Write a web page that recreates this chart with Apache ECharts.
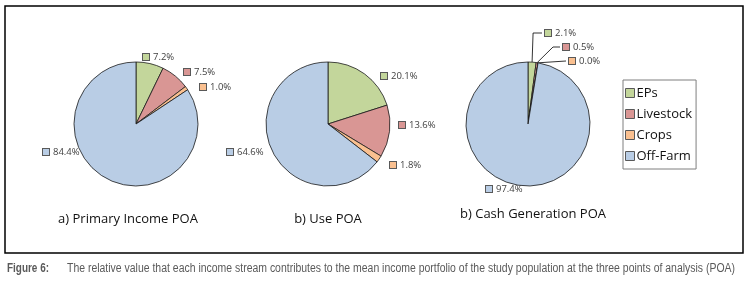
<!DOCTYPE html>
<html>
<head>
<meta charset="utf-8">
<script src="https://cdn.jsdelivr.net/npm/echarts@6/dist/echarts.min.js"></script>
<style>
html,body{margin:0;padding:0;background:#fff;}
#c{width:751px;height:285px;}
</style>
</head>
<body>
<div id="c"></div>
<script>
// ---- data ----
const categories = ['EPs', 'Livestock', 'Crops', 'Off-Farm'];
const primaryIncome = [7.2, 7.5, 1.0, 84.4];
const usePOA = [20.1, 13.6, 1.8, 64.6];
const cashGeneration = [2.1, 0.5, 0.0, 97.4];
const pieTitles = ['a) Primary Income POA', 'b) Use POA', 'b) Cash Generation POA'];
const caption = 'The relative value that each income stream contributes to the mean income portfolio of the study population at the three points of analysis (POA)';
const captionLabel = 'Figure 6:';

// ---- layout / style ----
const colors = ['#C3D69B', '#D99694', '#FAC090', '#B9CDE5'];
const centers = [[136, 124], [328, 124], [528, 124]];
const radius = 62;
// label anchor offsets (marker left, middle) from each pie centre
const labelOffsets = [
  [[7, -67], [48, -52], [64, -37], [-93, 28]],
  [[53, -48], [71, 1], [62, 41], [-101, 28]],
  [[17, -91], [35, -77], [41, -63], [-42, 65]]
];
const titlePos = [[123, 208], [323, 208], [528, 203]];
const labelFont = "'Open Sans', sans-serif";
const captionFont = "'Liberation Sans', Arial, sans-serif";

const seriesData = [primaryIncome, usePOA, cashGeneration];

const rich = { t: { fontSize: 9.5, fontFamily: labelFont, color: '#404040', padding: [0, 0, 0, 4] } };
colors.forEach((c, i) => {
  rich['m' + i] = { width: 6, height: 6, backgroundColor: c, borderColor: '#595959', borderWidth: 1 };
});

function midPoint(values, idx, center) {
  const total = values.reduce((a, b) => a + b, 0);
  let cum = 0;
  for (let i = 0; i < idx; i++) cum += values[i];
  const ang = (cum + values[idx] / 2) / total * 2 * Math.PI;
  return [center[0] + radius * Math.sin(ang), center[1] - radius * Math.cos(ang)];
}

const series = seriesData.map((vals, si) => ({
  type: 'pie',
  center: centers[si],
  radius: radius,
  startAngle: 90,
  clockwise: true,
  avoidLabelOverlap: false,
  animation: false,
  silent: true,
  data: categories.map((n, i) => ({
    name: n,
    value: vals[i],
    labelLine: { show: si === 2 && i < 3 }
  })),
  itemStyle: { borderColor: '#1a1a1a', borderWidth: 0.8 },
  label: {
    show: true,
    position: 'outside',
    formatter: p => '{m' + p.dataIndex + '|}{t|' + p.value.toFixed(1) + '%}',
    rich: rich
  },
  labelLine: si === 2
    ? { show: true, length: 5, length2: 5, lineStyle: { color: '#000', width: 0.8 } }
    : { show: false },
  labelLayout: function (params) {
    const off = labelOffsets[si][params.dataIndex];
    const lx = centers[si][0] + off[0];
    const ly = centers[si][1] + off[1];
    const res = { x: lx, y: ly, align: 'left', verticalAlign: 'middle' };
    if (si === 2 && params.dataIndex < 3) {
      const s = midPoint(vals, params.dataIndex, centers[si]);
      if (params.dataIndex === 0) res.labelLinePoints = [s, [s[0] + 1, ly], [lx - 3, ly]];
      else if (params.dataIndex === 1) res.labelLinePoints = [s, [lx - 10, ly], [lx - 3, ly]];
      else res.labelLinePoints = [s, [lx - 3, ly]];
    }
    return res;
  }
}));

// condense caption to its width in the reference (narrow font substitute)
const mctx = document.createElement('canvas').getContext('2d');
mctx.font = '12.5px ' + captionFont;
const capScale = 668 / mctx.measureText(caption).width;
mctx.font = 'bold 12.5px ' + captionFont;
const figScale = 42 / mctx.measureText(captionLabel).width;

const chart = echarts.init(document.getElementById('c'), null, { renderer: 'canvas' });
chart.setOption({
  color: colors,
  animation: false,
  title: pieTitles.map((t, i) => ({
    text: t,
    left: titlePos[i][0],
    top: titlePos[i][1],
    textAlign: 'center',
    textStyle: { fontFamily: labelFont, fontSize: 13, fontWeight: 'normal', color: '#111' }
  })),
  legend: {
    orient: 'vertical',
    left: 623,
    top: 80,
    width: 82,
    padding: [6, 4, 6, 2],
    borderColor: '#7f7f7f',
    borderWidth: 1,
    itemWidth: 9,
    itemHeight: 9,
    itemGap: 7,
    icon: 'rect',
    selectedMode: false,
    data: categories,
    itemStyle: { borderColor: '#595959', borderWidth: 1 },
    textStyle: { fontFamily: labelFont, fontSize: 13, color: '#111', padding: [0, 0, 0, -3], lineHeight: 14 }
  },
  series: series,
  graphic: [
    {
      type: 'rect',
      shape: { x: 5, y: 6, width: 738, height: 247 },
      style: { fill: 'none', stroke: '#000', lineWidth: 1.5 },
      silent: true
    },
    {
      type: 'text',
      x: 7,
      y: 269,
      scaleX: figScale,
      style: { text: captionLabel, font: 'bold 12.5px ' + captionFont, fill: '#5a5a5a', verticalAlign: 'middle' },
      silent: true
    },
    {
      type: 'text',
      x: 67,
      y: 269,
      scaleX: capScale,
      style: { text: caption, font: '12.5px ' + captionFont, fill: '#5a5a5a', verticalAlign: 'middle' },
      silent: true
    }
  ]
});
</script>
</body>
</html>
